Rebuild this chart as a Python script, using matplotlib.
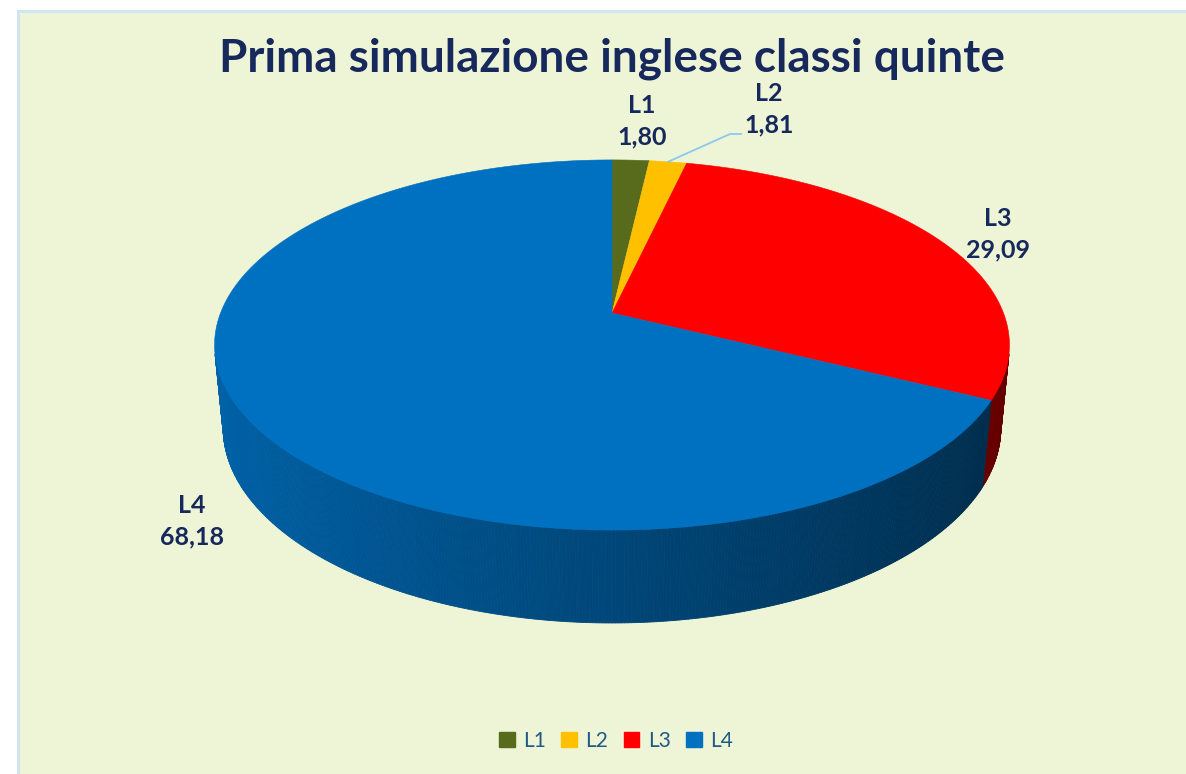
import matplotlib

matplotlib.use("Agg")

import matplotlib.pyplot as plt
import numpy as np
from matplotlib.patches import Patch, Polygon, Rectangle

# data
LABELS = ["L1", "L2", "L3", "L4"]
VALUES = [1.80, 1.81, 29.09, 68.18]
COLORS = ["#586A1C", "#FFC000", "#FF0000", "#0070C0"]
TITLE = "Prima simulazione inglese classi quinte"

# layout (pixels)
W, H = 1186, 774
CX, CY = 612, 313          # pie centre on screen
FOCAL = 2012.0
DIST = 5.14
ELEV = np.radians(27.3)
THICK = 0.24
LABEL_POS = {"L1": (642, 121), "L2": (769, 109), "L3": (998, 234), "L4": (192, 521)}
NAVY = "#16285C"


def project(x, y, z):
    depth = DIST + y * np.cos(ELEV) - z * np.sin(ELEV)
    up = y * np.sin(ELEV) + z * np.cos(ELEV)
    return CX + FOCAL * x / depth, CY - FOCAL * up / depth


def shade(color, t):
    rgb = np.array(matplotlib.colors.to_rgb(color))
    return tuple(rgb * (0.63 - 0.25 * np.cos(t)))


fig = plt.figure(figsize=(W / 100, H / 100), dpi=100)
fig.patch.set_facecolor("white")
ax = fig.add_axes([0, 0, 1, 1])
ax.set_xlim(0, W)
ax.set_ylim(H, 0)
ax.axis("off")
ax.add_patch(Rectangle((18, 11), 1180, 780, facecolor="#EEF5D6", edgecolor="#CFE6F2", lw=2.2, zorder=0))

total = sum(VALUES)
limit = -1.0 / (DIST * np.cos(ELEV))
start = np.pi / 2
bounds = []
for val in VALUES:
    span = val / total * 2 * np.pi
    bounds.append((start, start - span))
    start -= span

# side walls
for (t1, t2), color in zip(bounds, COLORS):
    ts = np.linspace(t1, t2, max(3, int(abs(t1 - t2) / np.radians(0.4))))
    for ta, tb in zip(ts[:-1], ts[1:]):
        tm = 0.5 * (ta + tb)
        if np.sin(ta) > limit and np.sin(tb) > limit:
            continue
        pts = [project(np.cos(ta), np.sin(ta), 0), project(np.cos(tb), np.sin(tb), 0),
               project(np.cos(tb), np.sin(tb), -THICK), project(np.cos(ta), np.sin(ta), -THICK)]
        c = shade(color, tm)
        ax.add_patch(Polygon(pts, closed=True, facecolor=c, edgecolor=c, lw=0.6, zorder=1))

# top faces
for (t1, t2), color in zip(bounds, COLORS):
    ts = np.linspace(t1, t2, 400)
    pts = [(CX, CY)] + [project(np.cos(t), np.sin(t), 0) for t in ts]
    ax.add_patch(Polygon(pts, closed=True, facecolor=color, edgecolor=color, lw=0.4, zorder=2))

# data labels
for lab, val in zip(LABELS, VALUES):
    x, y = LABEL_POS[lab]
    ax.text(x, y, f"{lab}\n{val:.2f}".replace(".", ","), ha="center", va="center",
            fontsize=18, fontweight="bold", color=NAVY, family="Lato", linespacing=1.45, zorder=5)

# leader line for L2
t_l2 = 0.5 * (bounds[1][0] + bounds[1][1])
lx, ly = project(np.cos(t_l2), np.sin(t_l2), 0)
ax.plot([741, 730, lx], [134, 134, ly], color="#8CC8EE", lw=1.3, zorder=4)

ax.text(612, 59, TITLE, ha="center", va="center", fontsize=33, fontweight="bold",
        color=NAVY, family="Lato", zorder=5)

handles = [Patch(facecolor=c, edgecolor=c) for c in COLORS]
fig.legend(handles, LABELS, loc="center", bbox_to_anchor=(616 / W, 1 - 741 / H), ncol=4,
           frameon=False, handlelength=0.75, handleheight=0.75, handletextpad=0.4,
           columnspacing=0.75, prop={"family": "Lato", "size": 15}, labelcolor="#1F5A86")

fig.savefig("out.png", dpi=100, facecolor=fig.get_facecolor())
